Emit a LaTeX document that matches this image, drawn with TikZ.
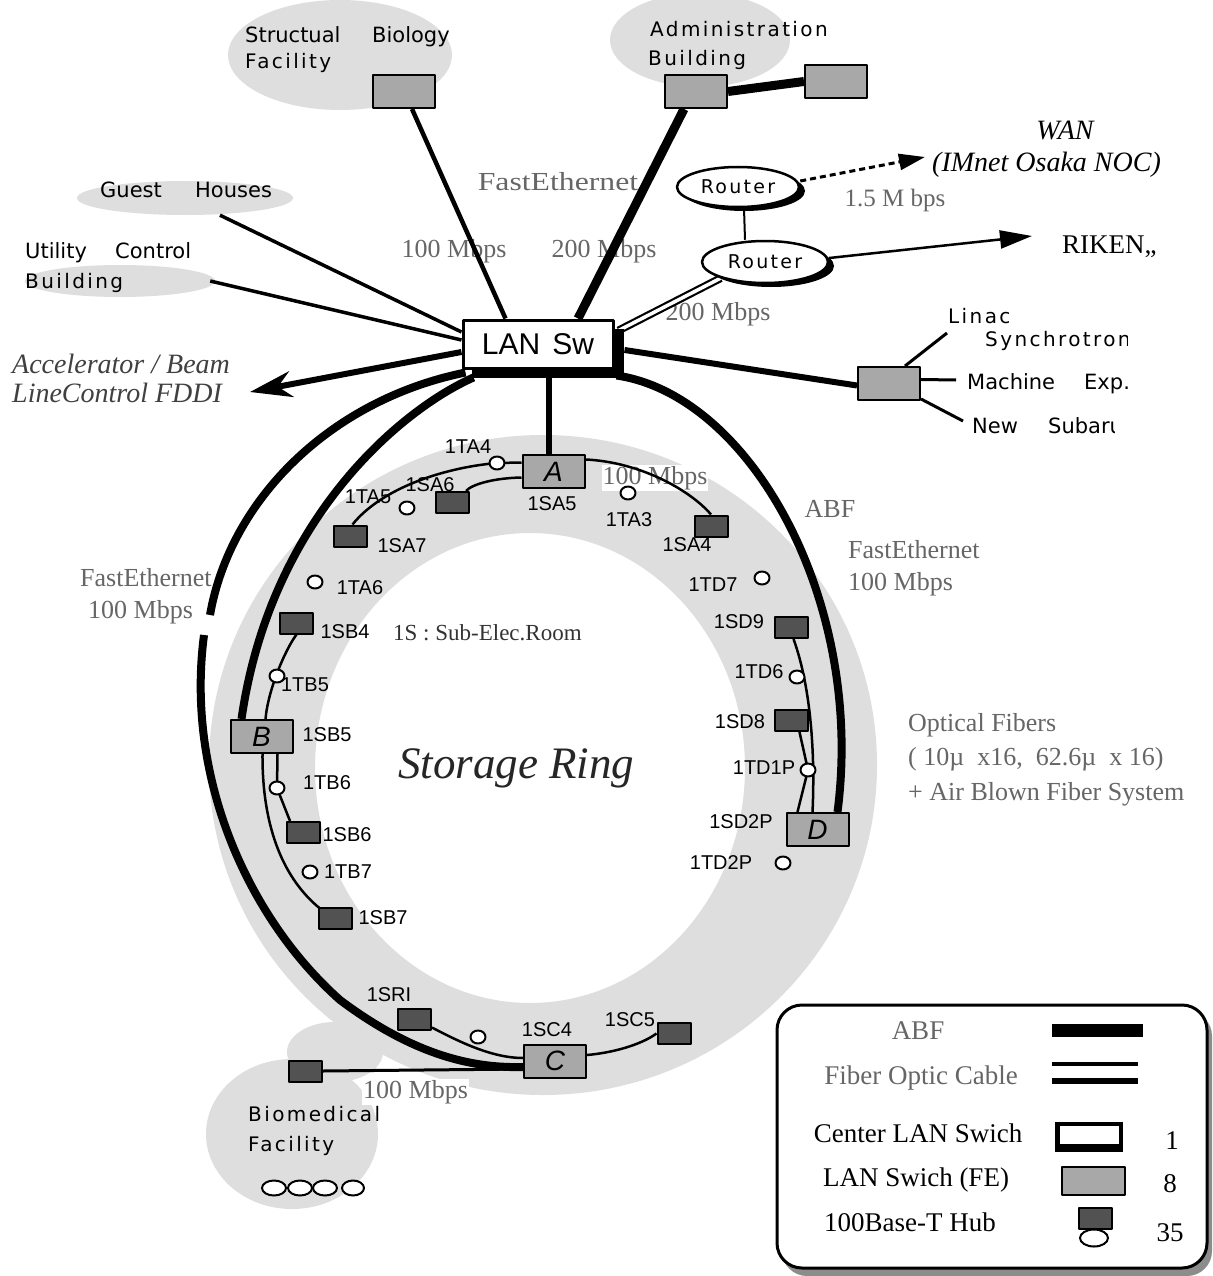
\documentclass[tikz,border=0pt]{standalone}
\usepackage{fontspec}
\setmainfont{Liberation Serif}
\newfontfamily\dvsfam{DejaVu Sans}
\newfontfamily\dvswfam[LetterSpace=12]{DejaVu Sans}
\newfontfamily\libsfam{Liberation Sans}
\newfontfamily\serwfam[FakeStretch=1.22]{Liberation Serif}
\usetikzlibrary{shapes.geometric,arrows.meta,calc}
\pgfdeclarelayer{blobs}\pgfdeclarelayer{labels}\pgfdeclarelayer{lines}
\pgfsetlayers{blobs,labels,lines,main}
\definecolor{blobgray}{gray}{0.87}
\definecolor{fegray}{gray}{0.66}
\definecolor{hubgray}{gray}{0.32}
\definecolor{txtgray}{gray}{0.40}
\definecolor{shadowgray}{gray}{0.55}
\tikzset{
 fe/.style={draw, line width=2pt, fill=fegray, minimum width=62pt, minimum height=33pt, inner sep=0pt, font=\libsfam\itshape\fontsize{28}{30}\selectfont},
 hub/.style={draw, line width=2pt, fill=hubgray, minimum width=33pt, minimum height=21pt, inner sep=0pt},
 hubc/.style={draw, line width=2pt, fill=white, ellipse, minimum width=15pt, minimum height=13pt, inner sep=0pt},
 rlab/.style={font=\libsfam\fontsize{20}{22}\selectfont, inner sep=0pt},
 facT/.style={font=\dvsfam\fontsize{21}{25}\selectfont, anchor=base west, inner sep=0pt},
 facW/.style={font=\dvswfam\fontsize{20}{24}\selectfont, anchor=base west, inner sep=0pt},
 grayT/.style={font=\fontsize{26}{30}\selectfont, text=txtgray, inner sep=0pt},
 legT/.style={font=\fontsize{27}{30}\selectfont, inner sep=0pt, anchor=base},
 thinc/.style={line width=2.5pt},
 abf/.style={line width=8pt},
 blob/.style={fill=blobgray, draw=none, ellipse, inner sep=0pt},
 router/.style={draw, ellipse, line width=2.5pt, fill=white, inner sep=0pt, font=\dvswfam\fontsize{19}{21}\selectfont},
}
\begin{document}
\begin{tikzpicture}[x=1pt,y=-1pt,line join=round]
\useasboundingbox (0,0) rectangle (1212,1276);

% ---------- background blobs ----------
\begin{pgfonlayer}{blobs}
\fill[white] (0,0) rectangle (1212,1276);
\node[blob, minimum width=224pt, minimum height=110pt] (sbBlob) at (340,55) {};
\node[blob, minimum width=180pt, minimum height=94pt] (adBlob) at (700,40) {};
\node[blob, minimum width=216pt, minimum height=34pt] (gh) at (185,198) {};
\node[blob, minimum width=190pt, minimum height=32pt] (ub) at (120,281) {};
\fill[blobgray, even odd rule] (543,765) ellipse [x radius=334pt, y radius=330pt]
      (530,768) ellipse [x radius=215pt, y radius=235pt];
\node[blob, minimum width=172pt, minimum height=150pt] (bioBlob) at (292,1134) {};
\fill[blobgray] (335,1052) ellipse [x radius=48pt, y radius=30pt];
\end{pgfonlayer}

% ---------- labels ----------
\begin{pgfonlayer}{labels}
\node[facT] (t1) at (245,43) {Structual};
\node[facT] (t2) at (372,43) {Biology};
\node[facW] (t3) at (245,69) {Facility};
\node[facW] (t4) at (650,37) {Administration};
\node[facW] (t5) at (648,66) {Building};
\node[facT] (t6) at (100,197) {Guest};
\node[facT] (t7) at (195,197) {Houses};
\node[facT] (t8) at (25,258) {Utility};
\node[facT] (t9) at (115,258) {Control};
\node[facW] (t10) at (25,288) {Building};
\node[facW] (t11) at (948,323) {Linac};
\begin{scope}
\clip (900,290) rectangle (1127,360);
\node[facW] (t12) at (985,346) {Synchrotron};
\end{scope}
\node[facT] (t13) at (967,389) {Machine};
\node[facT] (t14) at (1084,389) {Exp.};
\node[facT] (t15) at (972,433) {New};
\begin{scope}
\clip (1000,400) rectangle (1114,450);
\node[facT] (t16) at (1048,433) {Subaru};
\end{scope}
\node[facW] (t17) at (248,1121) {Biomedical};
\node[facW] (t18) at (248,1151) {Facility};

\node[grayT, anchor=base, font=\serwfam\fontsize{26}{30}\selectfont] (feTop) at (558,190) {FastEthernet};
\node[grayT, anchor=base] (m100) at (454,257) {100 Mbps};
\node[grayT, anchor=base] (m200) at (604,257) {200 Mbps};
\node[grayT, anchor=base, font=\fontsize{25}{28}\selectfont] (m15) at (895,206) {1.5 M bps};
\node[grayT, anchor=base] (m200b) at (718,320) {200 Mbps};
\node[grayT, anchor=base] (abfL) at (830,517) {ABF};
\node[grayT, anchor=base west] (feR) at (848,558) {FastEthernet};
\node[grayT, anchor=base west] (feR2) at (848,590) {100 Mbps};
\node[grayT, anchor=base west] (feL) at (80,586) {FastEthernet};
\node[grayT, anchor=base west] (feL2) at (88,618) {100 Mbps};
\node[grayT, anchor=base west] (of1) at (908,731) {Optical Fibers};
\node[grayT, anchor=base west] (of2) at (908,765) {( 10µ\ \ x16,\ \ 62.6µ\ \ x 16)};
\node[grayT, anchor=base west] (of3) at (908,800) {+ Air Blown Fiber System};
\node[grayT, anchor=base, fill=white, inner sep=1pt] (mA) at (655,484) {100 Mbps};
\node[grayT, anchor=base west, fill=white, inner sep=1pt] (mBio) at (362,1098) {100 Mbps};

\node[anchor=base west, font=\fontsize{23}{26}\selectfont, text=black!80, inner sep=0pt] (subE) at (393,640) {1S : Sub-Elec.Room};
\node[anchor=base west, font=\itshape\fontsize{45}{50}\selectfont, text=black!85, inner sep=0pt] (sr) at (398,778) {Storage Ring};
\node[anchor=base west, font=\itshape\fontsize{28}{30}\selectfont, text=black!75, inner sep=0pt] (acc1) at (12,373) {Accelerator / Beam};
\node[anchor=base west, font=\itshape\fontsize{28}{30}\selectfont, text=black!75, inner sep=0pt] (acc2) at (12,402) {LineControl FDDI};
\node[anchor=base, font=\itshape\fontsize{28}{30}\selectfont, inner sep=0pt] (wan) at (1065,140) {WAN};
\node[anchor=base west, font=\itshape\fontsize{28}{30}\selectfont, inner sep=0pt] (imnet) at (932,172) {(IMnet Osaka NOC)};
\node[anchor=base west, font=\fontsize{27}{30}\selectfont, inner sep=0pt] (riken) at (1062,253) {RIKEN,,};

\node[rlab] (l1) at (468,447) {1TA4};
\node[rlab] (l2) at (368,497) {1TA5};
\node[rlab] (l3) at (430,485) {1SA6};
\node[rlab] (l4) at (552,504) {1SA5};
\node[rlab] (l5) at (629,520) {1TA3};
\node[rlab] (l6) at (687,545) {1SA4};
\node[rlab] (l7) at (402,546) {1SA7};
\node[rlab] (l8) at (360,588) {1TA6};
\node[rlab] (l9) at (345,632) {1SB4};
\node[rlab] (l10) at (305,685) {1TB5};
\node[rlab] (l11) at (327,735) {1SB5};
\node[rlab] (l12) at (327,783) {1TB6};
\node[rlab] (l13) at (347,835) {1SB6};
\node[rlab] (l14) at (348,872) {1TB7};
\node[rlab] (l15) at (383,918) {1SB7};
\node[rlab] (l16) at (713,585) {1TD7};
\node[rlab] (l17) at (739,622) {1SD9};
\node[rlab] (l18) at (759,672) {1TD6};
\node[rlab] (l19) at (740,722) {1SD8};
\node[rlab] (l20) at (764,768) {1TD1P};
\node[rlab] (l21) at (741,822) {1SD2P};
\node[rlab] (l22) at (721,863) {1TD2P};
\node[rlab] (l23) at (389,995) {1SRI};
\node[rlab] (l24) at (547,1030) {1SC4};
\node[rlab] (l25) at (630,1020) {1SC5};
\end{pgfonlayer}

% ---------- nodes ----------
\fill (472,329) rectangle (624,378);
\node[draw, line width=3pt, fill=white, minimum width=150pt, minimum height=48pt, inner sep=0pt,
      font=\libsfam\fontsize{30}{32}\selectfont] (lan) at (538,344) {LAN\hspace{12pt}Sw};

\node[fe] (sb) at (404,91.5) {};
\node[fe] (ad1) at (696,91.5) {};
\node[fe] (ad2) at (836,81.5) {};
\node[fe] (lin) at (889,383.5) {};
\node[fe] (A) at (553.5,471.5) {A};
\node[fe] (B) at (261.5,736.5) {B};
\node[fe] (C) at (555,1061) {C};
\node[fe] (D) at (817.5,829.5) {D};

\fill (744,191) ellipse [x radius=61pt, y radius=20pt];
\node[router, minimum width=122pt, minimum height=40pt] (r1) at (738,187) {Router};
\fill (771,266) ellipse [x radius=63pt, y radius=21pt];
\node[router, minimum width=126pt, minimum height=42pt] (r2) at (765,262) {Router};

\node[hub] (SA6) at (452.5,502.5) {};
\node[hub] (SA7) at (350.5,536) {};
\node[hub] (SA4) at (711,526) {};
\node[hub] (SB4) at (296.5,623) {};
\node[hub] (SB6) at (303.5,832.5) {};
\node[hub] (SB7) at (335.5,918) {};
\node[hub] (SD9) at (791.5,627.5) {};
\node[hub] (SD8) at (791.5,720.5) {};
\node[hub] (SRI) at (414.5,1019) {};
\node[hub] (SC5) at (674,1033.5) {};
\node[hub] (bio) at (305,1071) {};

\node[hubc] (ta4) at (497,463) {};
\node[hubc] (ta5) at (407,508) {};
\node[hubc] (ta3) at (628,493) {};
\node[hubc] (ta6) at (315,582) {};
\node[hubc] (tb5) at (277,676) {};
\node[hubc] (tb6) at (277,788) {};
\node[hubc] (tb7) at (310,872) {};
\node[hubc] (td7) at (762,578) {};
\node[hubc] (td6) at (797,677) {};
\node[hubc] (td1p) at (808,770) {};
\node[hubc] (td2p) at (783,863) {};
\node[hubc] (cc) at (478,1037) {};
\node[hubc, minimum width=24pt, minimum height=15pt] (o1) at (274,1188) {};
\node[hubc, minimum width=24pt, minimum height=15pt] (o2) at (300,1188) {};
\node[hubc, minimum width=24pt, minimum height=15pt] (o3) at (325,1188) {};
\node[hubc, minimum width=22pt, minimum height=15pt] (o4) at (353,1188) {};

\coordinate (accTip) at (250,392);
\coordinate (wanTip) at (925,157);
\coordinate (rikTip) at (1032,236);
\coordinate (linA) at (947,333);
\coordinate (linB) at (956,380);
\coordinate (linC) at (963,421);

% ---------- connectors ----------
\begin{pgfonlayer}{lines}
\draw[line width=4.5pt] ($(sb.south)+(8,0)$) -- ($(lan.north west)+(44,0)$);
\draw[line width=9pt] ($(ad1.south)+(-12,0)$) -- ($(lan.north)+(40,0)$);
\draw[line width=9pt] (ad1.east) -- (ad2.west);
\draw[line width=3.5pt] ($(gh.south)+(35,0)$) -- ($(lan.west)+(0,-12)$);
\draw[line width=3.5pt] ($(ub.east)+(-5,0)$) -- ($(lan.west)+(0,-4)$);
\draw[line width=6pt, -{Stealth[length=42pt,width=26pt]}] ($(lan.west)+(0,8)$) -- (accTip);
\draw[line width=6pt] ($(lan.east)+(10,6)$) -- ($(lin.west)+(0,2)$);
\draw[line width=3pt] ($(lin.north east)+(-16,0)$) -- (linA);
\draw[line width=3pt] ($(lin.east)+(0,-4)$) -- (linB);
\draw[line width=3pt] ($(lin.south east)+(0,-2)$) -- (linC);
\draw[line width=2.2pt, double, double distance=3.5pt] ($(lan.north east)+(4,12)$) -- (r2.200);
\draw[line width=2pt] ($(r1.south)+(6,0)$) -- ($(r2.north)+(-20,0)$);
\draw[line width=3pt, dash pattern=on 6pt off 4pt, -{Triangle[length=26pt,width=16pt]}] ($(r1.east)+(0,-6)$) -- (wanTip);
\draw[line width=2.5pt, -{Triangle[length=32pt,width=18pt]}] ($(r2.east)+(0,-4)$) -- (rikTip);
\draw[line width=6pt] (A.north) ++(-5,0) coordinate (aTop) -- (aTop |- lan.south);

% ABF / FastEthernet trunks
\draw[abf] ($(lan.south east)+(2,6)$) .. controls (750,395) and (865,600) .. ($(D.north east)+(-12,0)$);
\draw[abf] ($(lan.south west)+(4,3)$) .. controls (330,400) and (230,500) .. (210,615);
\draw[abf] (204,635) .. controls (185,780) and (250,920) .. (340,1000)
           .. controls (420,1060) and (480,1068) .. ($(C.west)+(0,6)$);
\draw[abf] ($(lan.south west)+(12,8)$) .. controls (400,410) and (270,520) .. ($(B.north)+(-20,0)$);

% local 100 Mbps links
\draw[thinc] ($(A.west)+(0,-9)$) -- (ta4.center) .. controls (440,468) and (380,490) .. ($(SA7.north)+(2,0)$);
\draw[thinc] ($(A.west)+(0,6)$) .. controls (495,478) and (472,484) .. ($(SA6.north east)+(-4,0)$);
\draw[thinc] ($(A.east)+(0,-12)$) .. controls (640,462) and (690,490) .. (SA4.north);
\draw[thinc] ($(B.north)+(4,0)$) .. controls (268,690) and (285,650) .. (SB4.south);
\draw[thinc] ($(B.south)+(1,0)$) .. controls (262,830) and (285,880) .. ($(SB7.north west)+(2,2)$);
\draw[thinc] ($(B.south)+(16,0)$) -- (tb6.center) -- ($(SB6.north west)+(4,0)$);
\draw[thinc] ($(SD9.south)+(2,0)$) .. controls (812,690) and (815,760) .. ($(D.north)+(-5,0)$);
\draw[thinc] ($(SD8.south)+(8,0)$) -- (td1p.center) -- ($(D.north)+(-20,0)$);
\draw[thinc] ($(SRI.south east)+(0,-3)$) .. controls (465,1045) and (495,1058) .. ($(C.west)+(0,-3)$);
\draw[thinc] ($(C.east)+(0,-6)$) .. controls (620,1052) and (645,1042) .. (SC5.west);
\draw[line width=3pt] (bio.east) -- ($(C.west)+(0,8)$);
\end{pgfonlayer}

% ---------- legend ----------
\fill[shadowgray, rounded corners=25pt] (782,1011) rectangle (1212,1276);
\draw[line width=3pt, fill=white, rounded corners=25pt] (777,1005) rectangle (1207,1268);
\node[legT, text=txtgray] (gA) at (918,1039) {ABF};
\node[legT, text=txtgray] (gF) at (921,1084) {Fiber Optic Cable};
\node[legT] (gC) at (918,1142) {Center LAN Swich};
\node[legT] (gL) at (916,1186) {LAN Swich (FE)};
\node[legT] (gH) at (910,1231) {100Base-T Hub};
\node[legT] (n1) at (1172,1149) {1};
\node[legT] (n8) at (1170,1192) {8};
\node[legT] (n35) at (1170,1241) {35};
\fill (1052,1024) rectangle (1143,1037);
\draw[line width=4pt] (1052,1064) -- (1138,1064);
\draw[line width=6.5pt] (1052,1081) -- (1138,1081);
\fill (1055,1122) rectangle (1123,1152);
\fill[white] (1060,1126) rectangle (1119,1144);
\node[fe, minimum width=63pt, minimum height=28pt] (legFE) at (1093.5,1181) {};
\node[hub, minimum width=33pt, minimum height=21pt] (legHub) at (1095.5,1218) {};
\node[hubc, minimum width=28pt, minimum height=17pt] (legHc) at (1094,1238) {};
\end{tikzpicture}
\end{document}
